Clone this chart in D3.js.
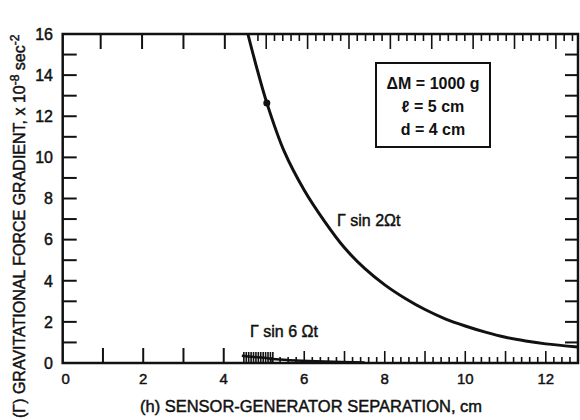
<!DOCTYPE html>
<html>
<head>
<meta charset="utf-8">
<script src="https://cdn.jsdelivr.net/npm/d3@7"></script>
<style>
  body { margin: 0; background: #fff; }
  svg { display: block; }
  text { font-family: "Liberation Sans", Arial, sans-serif; fill: #111; stroke: #111; stroke-width: 0.45px; }
</style>
</head>
<body>
<svg width="580" height="420"></svg>
<script>
// Γ sin 2Ωt curve
var h2 = [4.6, 4.8, 5.07, 5.5, 6.0, 6.5, 7.0, 7.5, 8.0, 8.5, 9.0, 9.5, 10.0, 10.5, 11.0, 11.5, 12.0, 12.8];
var g2 = [16, 14.5, 12.65, 10.3, 8.4, 6.9, 5.6, 4.6, 3.8, 3.15, 2.6, 2.15, 1.8, 1.5, 1.25, 1.07, 0.93, 0.78];
// Γ sin 6Ωt curve (hugs the axis)
var h6 = [4.45, 4.7, 5.0, 5.3, 5.8, 6.5, 7.5];
var g6 = [0.35, 0.3, 0.25, 0.18, 0.12, 0.07, 0.03];
// marked point on the 2Ωt curve
var markH = [5.07];
var markG = [12.65];

var xTicks = [0, 2, 4, 6, 8, 10, 12];
var yTicks = [0, 2, 4, 6, 8, 10, 12, 14, 16];
var boxLines = ["ΔM = 1000 g", "ℓ = 5 cm", "d = 4 cm"];

var svg = d3.select('svg');

var x = d3.scaleLinear().domain([0, 12.8]).range([62.7, 578]);
var xTop = d3.scaleLinear().domain([0, 12.8]).range([59.3, 589]);
var y = d3.scaleLinear().domain([0, 16]).range([363, 34]);

var ink = '#111';

// ticks
var g = svg.append('g').attr('stroke', ink).attr('stroke-width', 2);

// left ticks
g.selectAll('.lt').data(d3.range(1, 16)).enter().append('line')
    .attr('x1', x(0)).attr('x2', x(0) + 14)
    .attr('y1', function(d){ return y(d); }).attr('y2', function(d){ return y(d); });

// right ticks
g.selectAll('.rt').data(d3.range(1, 16)).enter().append('line')
    .attr('x1', 578).attr('x2', 578 - 13)
    .attr('y1', function(d){ return y(d); }).attr('y2', function(d){ return y(d); });

// bottom ticks: integers 1..4 long, then fine ticks from 5.2
g.selectAll('.bt').data([1, 2, 3, 4]).enter().append('line')
    .attr('x1', function(d){ return x(d); }).attr('x2', function(d){ return x(d); })
    .attr('y1', y(0)).attr('y2', y(0) - 15);
var fineB = d3.range(5.2, 12.7, 0.2);
g.selectAll('.bf').data(fineB).enter().append('line')
    .attr('stroke-width', 1.6)
    .attr('x1', function(d){ return x(d); }).attr('x2', function(d){ return x(d); })
    .attr('y1', y(0)).attr('y2', function(d){
        return Math.abs(d - Math.round(d)) < 0.05 ? y(0) - 12 : y(0) - 6;
    });

// top ticks
g.selectAll('.tt').data([1, 2, 3, 4]).enter().append('line')
    .attr('x1', function(d){ return xTop(d); }).attr('x2', function(d){ return xTop(d); })
    .attr('y1', y(16)).attr('y2', y(16) + 15);
var fineT = d3.range(4.8, 12.5, 0.2);
g.selectAll('.tf').data(fineT).enter().append('line')
    .attr('stroke-width', 1.6)
    .attr('x1', function(d){ return xTop(d); }).attr('x2', function(d){ return xTop(d); })
    .attr('y1', y(16)).attr('y2', function(d){
        return Math.abs(d - Math.round(d)) < 0.05 ? y(16) + 15 : y(16) + 7;
    });

// frame
svg.append('rect')
    .attr('x', x(0)).attr('y', y(16))
    .attr('width', 578 - x(0)).attr('height', y(0) - y(16))
    .attr('fill', 'none').attr('stroke', ink).attr('stroke-width', 2.5);

// tick labels
svg.selectAll('.yl').data(yTicks).enter().append('text')
    .attr('x', 53).attr('y', function(d){ return y(d); })
    .attr('dy', '0.36em').attr('text-anchor', 'end')
    .style('font-size', '16px')
    .text(function(d){ return d; });

svg.selectAll('.xl').data(xTicks).enter().append('text')
    .attr('x', function(d){ return x(d) + (d === 0 ? 3 : 0); }).attr('y', 384)
    .attr('text-anchor', 'middle')
    .style('font-size', '15px')
    .text(function(d){ return d; });

// axis titles
svg.append('text')
    .attr('x', 140).attr('y', 412)
    .attr('textLength', 342).attr('lengthAdjust', 'spacingAndGlyphs')
    .style('font-size', '16px')
    .text('(h) SENSOR-GENERATOR SEPARATION,  cm');

var yt = svg.append('text')
    .attr('transform', 'translate(25,418) rotate(-90)')
    .style('font-size', '16px');
yt.append('tspan').text('(Γ) GRAVITATIONAL FORCE GRADIENT, x 10');
yt.append('tspan').attr('dy', -6).style('font-size', '12px').text('-8');
yt.append('tspan').attr('dy', 6).text(' sec');
yt.append('tspan').attr('dy', -6).style('font-size', '12px').text('-2');

// curves
var line = d3.line()
    .x(function(d){ return x(d[0]); })
    .y(function(d){ return y(d[1]); })
    .curve(d3.curveCatmullRom);

svg.append('path')
    .datum(d3.zip(h2, g2))
    .attr('d', line)
    .attr('fill', 'none').attr('stroke', ink).attr('stroke-width', 3);

svg.append('path')
    .datum(d3.zip(h6, g6))
    .attr('d', line)
    .attr('fill', 'none').attr('stroke', ink).attr('stroke-width', 2.5);

// hatching on the 6Ωt curve
svg.append('g').attr('stroke', ink).attr('stroke-width', 1.6)
    .selectAll('line').data(d3.range(4.5, 5.25, 0.06)).enter().append('line')
    .attr('x1', function(d){ return x(d); }).attr('x2', function(d){ return x(d); })
    .attr('y1', y(0)).attr('y2', y(0) - 11);

svg.selectAll('.mk').data(d3.zip(markH, markG)).enter().append('circle')
    .attr('cx', function(d){ return x(d[0]); })
    .attr('cy', function(d){ return y(d[1]); })
    .attr('r', 3.5).attr('fill', ink);

// curve labels
svg.append('text').attr('x', 337).attr('y', 226)
    .style('font-size', '16px').text('Γ sin 2Ωt');
svg.append('text').attr('x', 250).attr('y', 337)
    .style('font-size', '16px').text('Γ sin 6 Ωt');

// parameter box
svg.append('rect')
    .attr('x', 376).attr('y', 63).attr('width', 114).attr('height', 84)
    .attr('fill', '#fff').attr('stroke', ink).attr('stroke-width', 2);
svg.selectAll('.bx').data(boxLines).enter().append('text')
    .attr('x', 433).attr('y', function(d, i){ return 89 + i * 23; })
    .attr('text-anchor', 'middle')
    .style('font-size', '16px').style('font-weight', 'bold').style('stroke-width', 0)
    .text(function(d){ return d; });
</script>
</body>
</html>
